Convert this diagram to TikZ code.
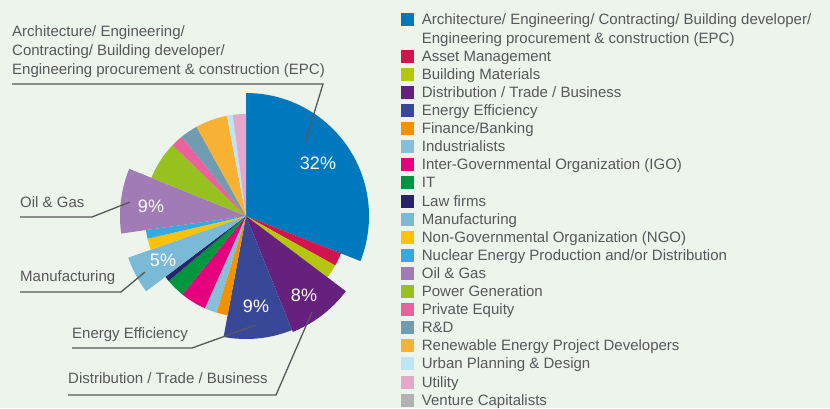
\documentclass[tikz,border=0pt]{standalone}
\usepackage{fontspec}
\setmainfont{Liberation Sans}
\usepackage{tikz}
\definecolor{bg}{HTML}{ECF4EC}
\definecolor{txt}{HTML}{58585A}
\definecolor{cEPC}{HTML}{0078BE}
\definecolor{cAsset}{HTML}{D2144C}
\definecolor{cBuild}{HTML}{B4C70C}
\definecolor{cDist}{HTML}{66217F}
\definecolor{cEnergy}{HTML}{394896}
\definecolor{cFin}{HTML}{F39200}
\definecolor{cInd}{HTML}{88BFD8}
\definecolor{cIGO}{HTML}{E5007E}
\definecolor{cIT}{HTML}{00963F}
\definecolor{cLaw}{HTML}{28246C}
\definecolor{cManu}{HTML}{7BBAD6}
\definecolor{cNGO}{HTML}{FFC200}
\definecolor{cNuc}{HTML}{36A9E1}
\definecolor{cOil}{HTML}{A07BB5}
\definecolor{cPower}{HTML}{96C11F}
\definecolor{cPE}{HTML}{EA619D}
\definecolor{cRD}{HTML}{6F9CB1}
\definecolor{cRen}{HTML}{F8B133}
\definecolor{cUrban}{HTML}{BEE4F7}
\definecolor{cUtil}{HTML}{E5A8CB}
\definecolor{cVC}{HTML}{B2B2B2}

\begin{document}
\begin{tikzpicture}[x=1pt, y=1pt,
  pct/.style={text=white, font=\fontsize{18}{18}\selectfont, inner sep=0},
  lbl/.style={text=txt, font=\fontsize{15}{19}\selectfont, inner sep=0, anchor=base west},
  leader/.style={draw=txt, line width=1.3pt},
  key/.style={minimum size=13pt, inner sep=0}]
 \useasboundingbox[fill=bg] (0,0) rectangle (830,408);
 \coordinate (o) at (246,192);
 \foreach \a/\b/\r/\c in {90/-21.5/123/cEPC, -21.5/-29/102/cAsset, -29/-37/102/cBuild,
   -37/-68/125/cDist, -68/-100.5/123/cEnergy, -100.5/-107/101/cFin, -107/-114/101/cInd,
   -114/-129/101/cIGO, -129/-140/101/cIT, -140/-143/101/cLaw, -143/-160.5/125/cManu,
   -160.5/-167/101/cNGO, -167/-172/101/cNuc, -172/-202/126/cOil, -202/-224/102/cPower,
   -224/-231/102/cPE, -231/-241/102/cRD, -241/-259.2/102/cRen, -259.2/-262.6/102/cUrban,
   -262.6/-270/102/cUtil}
   \fill[\c] (o) -- ++(\a:\r) arc[start angle=\a, end angle=\b, radius=\r] -- cycle;

 \node[pct] (p-epc) at (318,245) {32\%};
 \node[pct] (p-oil) at (151,202) {9\%};
 \node[pct] (p-manu) at (163,148) {5\%};
 \node[pct] (p-energy) at (256,102) {9\%};
 \node[pct] (p-dist) at (304,113) {8\%};

 % labels round the pie
 \node[lbl, anchor=north west, align=left] (l-epc) at (12,383)
   {Architecture/ Engineering/\\Contracting/ Building developer/\\Engineering procurement \& construction (EPC)};
 \node[lbl] (l-oil) at (20,201) {Oil \& Gas};
 \node[lbl] (l-manu) at (20,127) {Manufacturing};
 \node[lbl] (l-energy) at (72,70) {Energy Efficiency};
 \node[lbl] (l-dist) at (68,25) {Distribution / Trade / Business};

 \coordinate (epc-a) at (12,324);  \coordinate (epc-b) at (323,324);  \coordinate (epc-c) at (305,265);
 \coordinate (oil-a) at (20,191);  \coordinate (oil-b) at (92,191);   \coordinate (oil-c) at (130,206);
 \coordinate (manu-a) at (20,116); \coordinate (manu-b) at (121,116); \coordinate (manu-c) at (145,136);
 \coordinate (en-a) at (72,60);    \coordinate (en-b) at (192,60);    \coordinate (en-c) at (256,83);
 \coordinate (dist-a) at (68,13);  \coordinate (dist-b) at (276,13);  \coordinate (dist-c) at (312,96);
 \draw[leader] (epc-a) -- (epc-b) -- (epc-c);
 \draw[leader] (oil-a) -- (oil-b) -- (oil-c);
 \draw[leader] (manu-a) -- (manu-b) -- (manu-c);
 \draw[leader] (en-a) -- (en-b) -- (en-c);
 \draw[leader] (dist-a) -- (dist-b) -- (dist-c);

 % legend
 \foreach \r/\c/\t in {0/cEPC/{Architecture/ Engineering/ Contracting/ Building developer/},
   2/cAsset/{Asset Management}, 3/cBuild/{Building Materials}, 4/cDist/{Distribution / Trade / Business},
   5/cEnergy/{Energy Efficiency}, 6/cFin/{Finance/Banking}, 7/cInd/{Industrialists},
   8/cIGO/{Inter-Governmental Organization (IGO)}, 9/cIT/{IT}, 10/cLaw/{Law firms},
   11/cManu/{Manufacturing}, 12/cNGO/{Non-Governmental Organization (NGO)},
   13/cNuc/{Nuclear Energy Production and/or Distribution}, 14/cOil/{Oil \& Gas},
   15/cPower/{Power Generation}, 16/cPE/{Private Equity}, 17/cRD/{R\&D},
   18/cRen/{Renewable Energy Project Developers}, 19/cUrban/{Urban Planning \& Design},
   20/cUtil/{Utility}, 21/cVC/{Venture Capitalists}}
 {
   \node[key, fill=\c] (k\r) at (407.5,{388-18.1*\r}) {};
   \node[lbl] (t\r) at (421.7,{383-18.1*\r}) {\t};
 }
 \node[lbl] (t1) at (421.7,{383-18.1}) {Engineering procurement \& construction (EPC)};
\end{tikzpicture}
\end{document}
